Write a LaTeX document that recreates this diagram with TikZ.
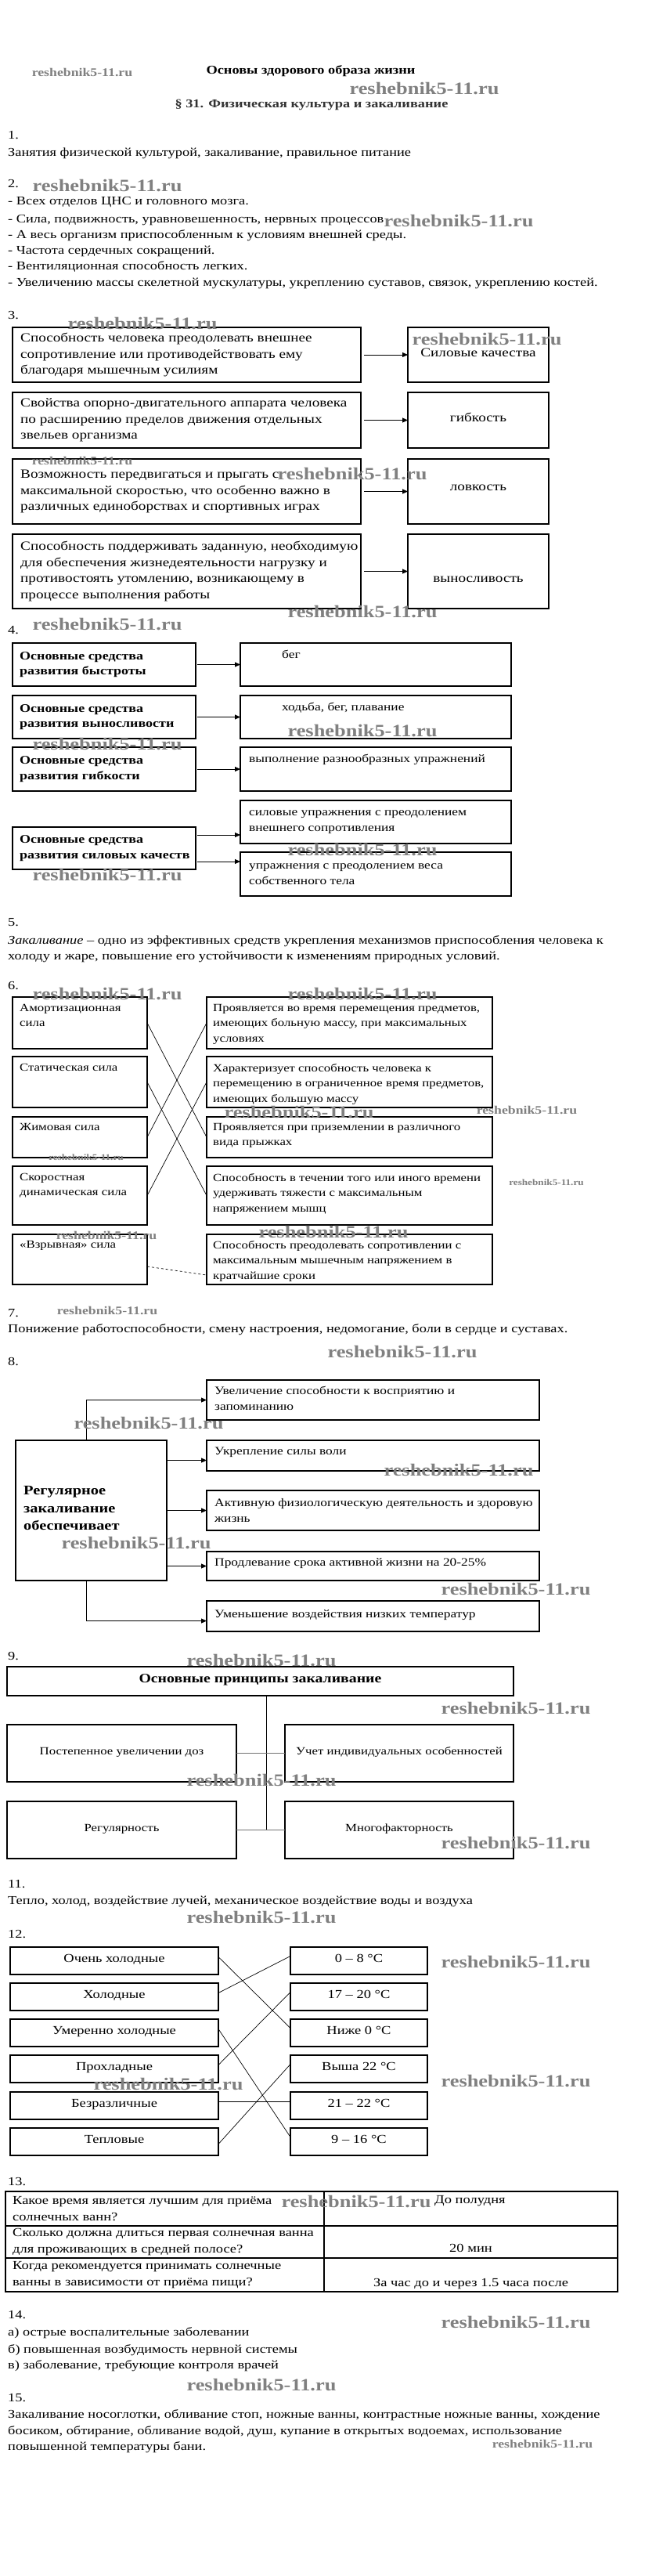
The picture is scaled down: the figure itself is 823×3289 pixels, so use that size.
\documentclass[tikz,border=0pt]{standalone}
\usepackage{fontspec}
\setmainfont{Liberation Serif}[FakeStretch=1.2]
\usetikzlibrary{arrows.meta}
\newcommand\szBody{\fontsize{15.3}{20}\selectfont}
\newcommand\szA{\fontsize{16}{20.7}\selectfont}
\newcommand\szB{\fontsize{14}{19.5}\selectfont}
\newcommand\szC{\fontsize{14.5}{20}\selectfont}
\newcommand\szD{\fontsize{15.4}{20.5}\selectfont}
\newcommand\szE{\fontsize{15}{19.5}\selectfont\bfseries}
\newcommand\szWB{\fontsize{22}{22}\selectfont\bfseries}
\newcommand\szWS{\fontsize{14.8}{15}\selectfont\bfseries}
\newcommand\szWT{\fontsize{11}{11}\selectfont\bfseries}
\newcommand\mkbox[5]{\node[box,minimum width=#4pt,minimum height=#5pt] (#1) at (#2,#3) {};}
\tikzset{
  box/.style={draw, line width=1.2pt, inner sep=0pt, outer sep=0pt, anchor=north west},
  txt/.style={inner sep=0pt, align=left, font=\szBody},
  arr/.style={-{Triangle[length=7pt,width=6pt]}, line width=0.9pt},
  ln/.style={line width=0.7pt},
  wm/.style={inner sep=0pt, text=black!50, font=\szWB},
  wms/.style={inner sep=0pt, text=black!50, font=\szWS},
  wmt/.style={inner sep=0pt, text=black!50, font=\szWT},
}
\begin{document}
\begin{tikzpicture}[x=1pt,y=-1pt]
\fill[white] (0,0) rectangle (823,3289);
\useasboundingbox (0,0) rectangle (823,3289);

% ---------- header ----------
\node[txt, font=\szBody\bfseries, anchor=mid] (title) at (397,92) {Основы здорового образа жизни};
\node[txt, font=\szBody\bfseries, anchor=mid, text=black!80] (para) at (398,135) {§ 31. Физическая культура и закаливание};

% ---------- 1, 2 ----------
\node[txt, anchor=mid west] (n1) at (10,175) {1.};
\node[txt, anchor=mid west] (t1) at (10,197) {Занятия физической культурой, закаливание, правильное питание};
\node[txt, anchor=mid west] (n2) at (10,237) {2.};
\node[txt, anchor=mid west] (t2a) at (10,259) {- Всех отделов ЦНС и головного мозга.};
\node[txt, anchor=mid west] (t2b) at (10,282) {- Сила, подвижность, уравновешенность, нервных процессов};
\node[txt, anchor=mid west] (t2c) at (10,302) {- А весь организм приспособленным к условиям внешней среды.};
\node[txt, anchor=mid west] (t2d) at (10,322) {- Частота сердечных сокращений.};
\node[txt, anchor=mid west] (t2e) at (10,342) {- Вентиляционная способность легких.};
\node[txt, anchor=mid west] (t2f) at (10,363) {- Увеличению массы скелетной мускулатуры, укреплению суставов, связок, укреплению костей.};

% ---------- 3 ----------
\node[txt, anchor=mid west] (n3) at (10,405) {3.};
\mkbox{a1}{16}{418}{445}{70}
\mkbox{b1}{521}{418}{180}{70}
\mkbox{a2}{16}{501}{445}{71}
\mkbox{b2}{521}{501}{180}{71}
\mkbox{a3}{16}{586}{445}{83}
\mkbox{b3}{521}{586}{180}{83}
\mkbox{a4}{16}{682}{445}{95}
\mkbox{b4}{521}{682}{180}{95}
\node[txt, font=\szA, anchor=west] (a1t) at ([xshift=10pt]a1.west) {Способность человека преодолевать внешнее\\сопротивление или противодействовать ему\\благодаря мышечным усилиям};
\node[txt, font=\szA, anchor=west] (a2t) at ([xshift=10pt]a2.west) {Свойства опорно-двигательного аппарата человека\\по расширению пределов движения отдельных\\звельев организма};
\node[txt, font=\szA, anchor=west] (a3t) at ([xshift=10pt]a3.west) {Возможность передвигаться и прыгать с\\максимальной скоростью, что особенно важно в\\различных единоборствах и спортивных играх};
\node[txt, font=\szA, anchor=west] (a4t) at ([xshift=10pt]a4.west) {Способность поддерживать заданную, необходимую\\для обеспечения жизнедеятельности нагрузку и\\противостоять утомлению, возникающему в\\процессе выполнения работы};
\node[txt, font=\szA, anchor=mid] (b1t) at (b1.center) {Силовые качества};
\node[txt, font=\szA, anchor=mid] (b2t) at (b2.center) {гибкость};
\node[txt, font=\szA, anchor=mid] (b3t) at ([yshift=3pt]b3.center) {ловкость};
\node[txt, font=\szA, anchor=mid] (b4t) at ([yshift=-12pt]b4.center) {выносливость};
\draw[arr, shorten <=4pt] (a1.east) -- (b1.west);
\draw[arr, shorten <=4pt] (a2.east) -- (b2.west);
\draw[arr, shorten <=4pt] (a3.east) -- (b3.west);
\draw[arr, shorten <=4pt] (a4.east) -- (b4.west);

% ---------- 4 ----------
\node[txt, anchor=mid west] (n4) at (10,807) {4.};
\mkbox{l1}{16}{821}{234}{55}
\mkbox{r1}{307}{821}{346}{55}
\mkbox{l2}{16}{888}{234}{55}
\mkbox{r2}{307}{888}{346}{55}
\mkbox{l3}{16}{954}{234}{56}
\mkbox{r3}{307}{954}{346}{56}
\mkbox{r4a}{307}{1022}{346}{55}
\mkbox{l4}{16}{1056}{234}{54}
\mkbox{r4b}{307}{1088}{346}{56}
\node[txt, font=\szE, anchor=west] (l1t) at ([xshift=9pt]l1.west) {Основные средства\\развития быстроты};
\node[txt, font=\szE, anchor=west] (l2t) at ([xshift=9pt]l2.west) {Основные средства\\развития выносливости};
\node[txt, font=\szE, anchor=west] (l3t) at ([xshift=9pt]l3.west) {Основные средства\\развития гибкости};
\node[txt, font=\szE, anchor=west] (l4t) at ([xshift=9pt]l4.west) {Основные средства\\развития силовых качеств};
\node[txt, font=\szC, anchor=north west] (r1t) at ([xshift=53pt,yshift=-9pt]r1.north west) {бег};
\node[txt, font=\szC, anchor=north west] (r2t) at ([xshift=53pt,yshift=-9pt]r2.north west) {ходьба, бег, плавание};
\node[txt, font=\szC, anchor=north west] (r3t) at ([xshift=11pt,yshift=-9pt]r3.north west) {выполнение разнообразных упражнений};
\node[txt, font=\szC, anchor=west] (r4at) at ([xshift=11pt]r4a.west) {силовые упражнения с преодолением\\внешнего сопротивления};
\node[txt, font=\szC, anchor=west] (r4bt) at ([xshift=11pt]r4b.west) {упражнения с преодолением веса\\собственного тела};
\draw[arr, shorten <=2pt] (l1.east) -- (r1.west);
\draw[arr, shorten <=2pt] (l2.east) -- (r2.west);
\draw[arr, shorten <=2pt] (l3.east) -- (r3.west);
\coordinate (l4a) at ([yshift=17pt]l4.east);
\coordinate (l4b) at ([yshift=-17pt]l4.east);
\draw[arr, shorten <=2pt] (l4a) -- (l4a -| r4a.west);
\draw[arr, shorten <=2pt] (l4b) -- (l4b -| r4b.west);

% ---------- 5 ----------
\node[txt, anchor=mid west] (n5) at (10,1180) {5.};
\node[txt, anchor=mid west] (t5a) at (10,1203) {\textit{Закаливание} – одно из эффективных средств укрепления механизмов приспособления человека к};
\node[txt, anchor=mid west] (t5b) at (10,1223) {холоду и жаре, повышение его устойчивости к изменениям природных условий.};

% ---------- 6 ----------
\node[txt, anchor=mid west] (n6) at (10,1261) {6.};
\mkbox{l61}{16}{1273}{172}{66}
\mkbox{r61}{264}{1273}{365}{66}
\mkbox{l62}{16}{1349}{172}{65}
\mkbox{r62}{264}{1349}{365}{65}
\mkbox{l63}{16}{1426}{172}{52}
\mkbox{r63}{264}{1426}{365}{52}
\mkbox{l64}{16}{1489}{172}{75}
\mkbox{r64}{264}{1489}{365}{75}
\mkbox{l65}{16}{1576}{172}{64}
\mkbox{r65}{264}{1576}{365}{64}
\node[txt, font=\szB, anchor=north west] (l61t) at ([xshift=9pt,yshift=-9pt]l61.north west) {Амортизационная\\сила};
\node[txt, font=\szB, anchor=north west] (l62t) at ([xshift=9pt,yshift=-9pt]l62.north west) {Статическая сила};
\node[txt, font=\szB, anchor=north west] (l63t) at ([xshift=9pt,yshift=-8pt]l63.north west) {Жимовая сила};
\node[txt, font=\szB, anchor=north west] (l64t) at ([xshift=9pt,yshift=-9pt]l64.north west) {Скоростная\\динамическая сила};
\node[txt, font=\szB, anchor=north west] (l65t) at ([xshift=9pt,yshift=-8pt]l65.north west) {«Взрывная» сила};
\node[txt, font=\szB, anchor=north west] (r61t) at ([xshift=8pt,yshift=-9pt]r61.north west) {Проявляется во время перемещения предметов,\\имеющих больную массу, при максимальных\\условиях};
\node[txt, font=\szB, anchor=north west] (r62t) at ([xshift=8pt,yshift=-9pt]r62.north west) {Характеризует способность человека к\\перемещению в ограниченное время предметов,\\имеющих большую массу};
\node[txt, font=\szB, anchor=north west] (r63t) at ([xshift=8pt,yshift=-8pt]r63.north west) {Проявляется при приземлении в различного\\вида прыжках};
\node[txt, font=\szB, anchor=north west] (r64t) at ([xshift=8pt,yshift=-9pt]r64.north west) {Способность в течении того или иного времени\\удерживать тяжести с максимальным\\напряжением мышц};
\node[txt, font=\szB, anchor=north west] (r65t) at ([xshift=8pt,yshift=-8pt]r65.north west) {Способность преодолевать сопротивлении с\\максимальным мышечным напряжением в\\кратчайшие сроки};
\draw[ln] (l61.east) -- (r63.west);
\draw[ln] (l62.east) -- (r64.west);
\draw[ln] (l63.east) -- (r61.west);
\draw[ln] (l64.east) -- (r62.west);
\draw[ln, dashed] ([yshift=-9pt]l65.east) -- ([yshift=-20pt]r65.west);

% ---------- 7 ----------
\node[txt, anchor=mid west] (n7) at (10,1679) {7.};
\node[txt, anchor=mid west] (t7) at (10,1699) {Понижение работоспособности, смену настроения, недомогание, боли в сердце и суставах.};

% ---------- 8 ----------
\node[txt, anchor=mid west] (n8) at (10,1741) {8.};
\mkbox{L8}{20}{1839}{193}{179}
\mkbox{R81}{264}{1762}{425}{51}
\mkbox{R82}{264}{1839}{425}{39}
\mkbox{R83}{264}{1903}{425}{51}
\mkbox{R84}{264}{1981}{425}{37}
\mkbox{R85}{264}{2044}{425}{39}
\node[txt, font=\fontsize{17}{22.5}\selectfont\bfseries, anchor=west] (L8t) at ([xshift=10pt,yshift=3pt]L8.west) {Регулярное\\закаливание\\обеспечивает};
\node[txt, font=\szC, anchor=north west] (R81t) at ([xshift=10pt,yshift=-8pt]R81.north west) {Увеличение способности к восприятию и\\запоминанию};
\node[txt, font=\szC, anchor=north west] (R82t) at ([xshift=10pt,yshift=-9pt]R82.north west) {Укрепление силы воли};
\node[txt, font=\szC, anchor=north west] (R83t) at ([xshift=10pt,yshift=-10pt]R83.north west) {Активную физиологическую деятельность и здоровую\\жизнь};
\node[txt, font=\szC, anchor=north west] (R84t) at ([xshift=10pt,yshift=-8pt]R84.north west) {Продлевание срока активной жизни на 20-25\%};
\node[txt, font=\szC, anchor=north west] (R85t) at ([xshift=10pt,yshift=-11pt]R85.north west) {Уменьшение воздействия низких температур};
\coordinate (L8top) at ([xshift=-6pt]L8.north);
\coordinate (L8bot) at ([xshift=-6pt]L8.south);
\draw[arr] (L8top) |- (R81.west);
\draw[arr] ([yshift=-6pt]L8.east |- R82.west) -- ([yshift=-6pt]R82.west);
\draw[arr] (L8.east |- R83.west) -- (R83.west);
\draw[arr] (L8.east |- R84.west) -- (R84.west);
\draw[arr] (L8bot) |- ([yshift=-6pt]R85.west);

% ---------- 9 ----------
\node[txt, anchor=mid west] (n9) at (10,2117) {9.};
\mkbox{p9}{9}{2128}{647}{37}
\mkbox{q1}{9}{2202}{293}{73}
\mkbox{q2}{364}{2202}{292}{73}
\mkbox{q3}{9}{2300}{293}{73}
\mkbox{q4}{364}{2300}{292}{73}
\node[txt, font=\fontsize{16.5}{20}\selectfont\bfseries, anchor=mid] (p9t) at (p9.center) {Основные принципы закаливание};
\node[txt, font=\szB, anchor=mid] (q1t) at (q1.center) {Постепенное увеличении доз};
\node[txt, font=\szB, anchor=mid] (q2t) at (q2.center) {Учет индивидуальных особенностей};
\node[txt, font=\szB, anchor=mid] (q3t) at (q3.center) {Регулярность};
\node[txt, font=\szB, anchor=mid] (q4t) at (q4.center) {Многофакторность};
\coordinate (v9) at ([xshift=7.5pt]p9.south);
\draw[ln] (v9) -- (v9 |- q3.east);
\draw[ln, draw=black!55] (q1.east) -- (q2.west);
\draw[ln, draw=black!55] (q3.east) -- (q4.west);

% ---------- 11 ----------
\node[txt, anchor=mid west] (n11) at (10,2408) {11.};
\node[txt, anchor=mid west] (t11) at (10,2429) {Тепло, холод, воздействие лучей, механическое воздействие воды и воздуха};

% ---------- 12 ----------
\node[txt, anchor=mid west] (n12) at (10,2472) {12.};
\mkbox{s1}{13}{2486}{266}{35}
\mkbox{s2}{13}{2532}{266}{35}
\mkbox{s3}{13}{2578}{266}{35}
\mkbox{s4}{13}{2624}{266}{35}
\mkbox{s5}{13}{2671}{266}{35}
\mkbox{s6}{13}{2717}{266}{35}
\mkbox{u1}{371}{2486}{175}{35}
\mkbox{u2}{371}{2532}{175}{35}
\mkbox{u3}{371}{2578}{175}{35}
\mkbox{u4}{371}{2624}{175}{35}
\mkbox{u5}{371}{2671}{175}{35}
\mkbox{u6}{371}{2717}{175}{35}
\node[txt, font=\szD, anchor=mid] (s1t) at (s1.center) {Очень холодные};
\node[txt, font=\szD, anchor=mid] (s2t) at (s2.center) {Холодные};
\node[txt, font=\szD, anchor=mid] (s3t) at (s3.center) {Умеренно холодные};
\node[txt, font=\szD, anchor=mid] (s4t) at (s4.center) {Прохладные};
\node[txt, font=\szD, anchor=mid] (s5t) at (s5.center) {Безразличные};
\node[txt, font=\szD, anchor=mid] (s6t) at (s6.center) {Тепловые};
\node[txt, font=\szD, anchor=mid] (u1t) at (u1.center) {0 – 8 °С};
\node[txt, font=\szD, anchor=mid] (u2t) at (u2.center) {17 – 20 °С};
\node[txt, font=\szD, anchor=mid] (u3t) at (u3.center) {Ниже 0 °С};
\node[txt, font=\szD, anchor=mid] (u4t) at (u4.center) {Выша 22 °С};
\node[txt, font=\szD, anchor=mid] (u5t) at (u5.center) {21 – 22 °С};
\node[txt, font=\szD, anchor=mid] (u6t) at (u6.center) {9 – 16 °С};
\draw[ln] ([yshift=5pt]s1.east) -- ([yshift=6pt]u3.west);
\draw[ln] ([yshift=5pt]s2.east) -- ([yshift=6pt]u1.west);
\draw[ln] ([yshift=5pt]s3.east) -- ([yshift=6pt]u6.west);
\draw[ln] ([yshift=5pt]s4.east) -- ([yshift=6pt]u2.west);
\draw[ln] ([yshift=5pt]s5.east) -- ([yshift=5pt]u5.west);
\draw[ln] ([yshift=-3pt]s6.east) -- ([yshift=6pt]u4.west);

% ---------- 13 ----------
\node[txt, anchor=mid west] (n13) at (10,2788) {13.};
\mkbox{c11}{7}{2798}{407}{44}
\mkbox{c12}{414}{2798}{375}{44}
\mkbox{c21}{7}{2842}{407}{41}
\mkbox{c22}{414}{2842}{375}{41}
\mkbox{c31}{7}{2883}{407}{43}
\mkbox{c32}{414}{2883}{375}{43}
\node[txt, font=\szD, anchor=west] (c11t) at ([xshift=9pt]c11.west) {Какое время является лучшим для приёма\\солнечных ванн?};
\node[txt, font=\szD, anchor=west] (c21t) at ([xshift=9pt]c21.west) {Сколько должна длиться первая солнечная ванна\\для проживающих в средней полосе?};
\node[txt, font=\szD, anchor=west] (c31t) at ([xshift=9pt]c31.west) {Когда рекомендуется принимать солнечные\\ванны в зависимости от приёма пищи?};
\node[txt, font=\szD, anchor=mid west] (c12t) at ([xshift=141pt,yshift=9pt]c12.west) {До полудня};
\node[txt, font=\szD, anchor=mid] (c22t) at ([yshift=-10.5pt]c22.center) {20 мин};
\node[txt, font=\szD, anchor=mid] (c32t) at ([yshift=-12.5pt]c32.center) {За час до и через 1.5 часа после};

% ---------- 14, 15 ----------
\node[txt, anchor=mid west] (n14) at (10,2958) {14.};
\node[txt, anchor=mid west] (t14a) at (10,2980) {а) острые воспалительные заболевании};
\node[txt, anchor=mid west] (t14b) at (10,3002) {б) повышенная возбудимость нервной системы};
\node[txt, anchor=mid west] (t14c) at (10,3022) {в) заболевание, требующие контроля врачей};
\node[txt, anchor=mid west] (n15) at (10,3064) {15.};
\node[txt, anchor=mid west] (t15a) at (10,3085) {Закаливание носоглотки, обливание стоп, ножные ванны, контрастные ножные ванны, хождение};
\node[txt, anchor=mid west] (t15b) at (10,3106) {босиком, обтирание, обливание водой, душ, купание в открытых водоемах, использование};
\node[txt, anchor=mid west] (t15c) at (10,3126) {повышенной температуры бани.};

% ---------- watermarks ----------
\node[wm] (w1) at (542,113) {reshebnik5-11.ru};
\node[wm] (w2) at (137,237) {reshebnik5-11.ru};
\node[wm] (w3) at (586,282) {reshebnik5-11.ru};
\node[wm] (w4) at (182,413) {reshebnik5-11.ru};
\node[wm] (w5) at (622,433) {reshebnik5-11.ru};
\node[wm] (w6) at (450,605) {reshebnik5-11.ru};
\node[wm] (w7) at (463,781) {reshebnik5-11.ru};
\node[wm] (w8) at (137,797) {reshebnik5-11.ru};
\node[wm] (w9) at (463,933) {reshebnik5-11.ru};
\node[wm] (w10) at (137,950) {reshebnik5-11.ru};
\node[wm] (w11) at (463,1085) {reshebnik5-11.ru};
\node[wm] (w12) at (137,1117) {reshebnik5-11.ru};
\node[wm] (w13) at (137,1269) {reshebnik5-11.ru};
\node[wm] (w14) at (463,1269) {reshebnik5-11.ru};
\node[wm] (w15) at (382,1420) {reshebnik5-11.ru};
\node[wm] (w16) at (426,1573) {reshebnik5-11.ru};
\node[wm] (w17) at (514,1726) {reshebnik5-11.ru};
\node[wm] (w18) at (190,1817) {reshebnik5-11.ru};
\node[wm] (w19) at (586,1877) {reshebnik5-11.ru};
\node[wm] (w20) at (174,1970) {reshebnik5-11.ru};
\node[wm] (w21) at (659,2029) {reshebnik5-11.ru};
\node[wm] (w22) at (334,2120) {reshebnik5-11.ru};
\node[wm] (w23) at (659,2181) {reshebnik5-11.ru};
\node[wm] (w24) at (334,2273) {reshebnik5-11.ru};
\node[wm] (w25) at (659,2353) {reshebnik5-11.ru};
\node[wm] (w26) at (334,2448) {reshebnik5-11.ru};
\node[wm] (w27) at (659,2505) {reshebnik5-11.ru};
\node[wm] (w28) at (659,2657) {reshebnik5-11.ru};
\node[wm] (w29) at (215,2661) {reshebnik5-11.ru};
\node[wm] (w30) at (455,2811) {reshebnik5-11.ru};
\node[wm] (w31) at (659,2965) {reshebnik5-11.ru};
\node[wm] (w32) at (334,3045) {reshebnik5-11.ru};
\node[wms] (ws1) at (105,92) {reshebnik5-11.ru};
\node[wms] (ws2) at (105,588) {reshebnik5-11.ru};
\node[wms] (ws3) at (673,1417) {reshebnik5-11.ru};
\node[wmt] (ws4) at (110,1478) {reshebnik5-11.ru};
\node[wmt] (ws5) at (698,1510) {reshebnik5-11.ru};
\node[wms] (ws6) at (136,1577) {reshebnik5-11.ru};
\node[wms] (ws7) at (137,1673) {reshebnik5-11.ru};
\node[wms] (ws8) at (693,3120) {reshebnik5-11.ru};
\end{tikzpicture}
\end{document}
